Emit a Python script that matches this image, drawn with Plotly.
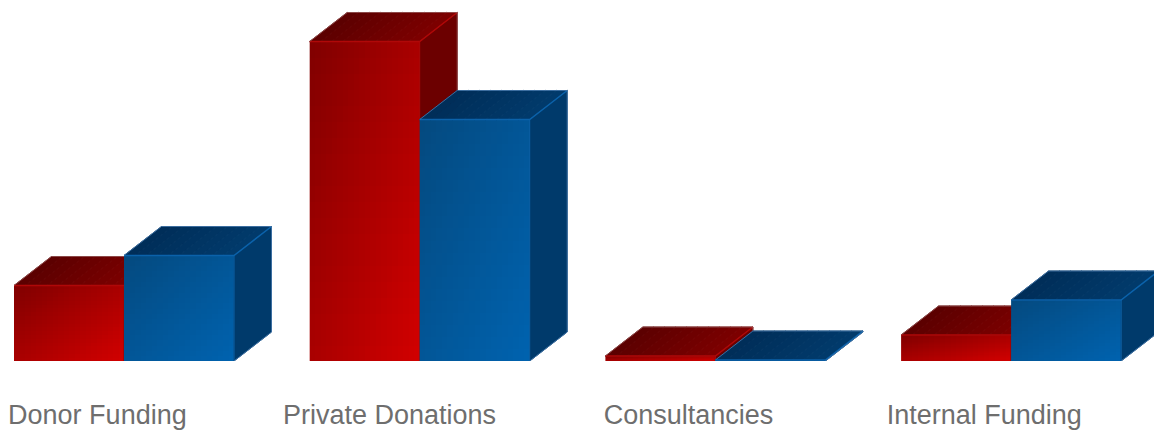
import plotly.graph_objects as go
import numpy as np

categories = ["Donor Funding", "Private Donations", "Consultancies", "Internal Funding"]
series_2_red = [75.5, 319.5, 5, 26]
series_1_blue = [105.5, 241.5, 1, 61]
label_positions = [0.282, 1.270, 2.281, 3.281]  # tick label centres, in group units

GROUP_PX = 295.7
BAR = 110.0 / GROUP_PX
DX = 37.5 / GROUP_PX
DY = 29
XR = [-14 / GROUP_PX, (1154 - 14) / GROUP_PX]
YR = [0, 361]

STYLE = {
    "red": dict(front=[[0, "#820000"], [1, "#d00000"]], top=("#5c0000", "#7c0000"),
                side="#6c0000", edge="#b00808", back="rgba(150,90,90,0.8)"),
    "blue": dict(front=[[0, "#044a80"], [1, "#0062ae"]], top=("#002e59", "#013a6b"),
                 side="#003a6b", edge="#0b62aa", back="rgba(70,120,170,0.85)"),
}


def mix(a, b, t):
    ca = [int(a[i:i + 2], 16) for i in (1, 3, 5)]
    cb = [int(b[i:i + 2], 16) for i in (1, 3, 5)]
    return "#" + "".join(f"{round(p + (q - p) * t):02x}" for p, q in zip(ca, cb))


def poly(xs, ys, color, xa, ya):
    return go.Scatter(x=xs, y=ys, mode="lines", fill="toself", fillcolor=color,
                      line=dict(width=1, color=color), hoverinfo="skip",
                      showlegend=False, xaxis=xa, yaxis=ya)


def outline(xs, ys, color, xa, ya, w=1.5):
    return go.Scatter(x=xs, y=ys, mode="lines", line=dict(width=w, color=color),
                      hoverinfo="skip", showlegend=False, xaxis=xa, yaxis=ya)


def bar3d(fig, left, value, style, xa, ya):
    s = STYLE[style]
    right = left + BAR
    fig.add_trace(poly([right, right + DX, right + DX, right, right],
                       [0, DY, value + DY, value, 0], s["side"], xa, ya))
    n = 10
    for i in range(n):
        a = left + BAR * i / n
        b = left + BAR * (i + 1) / n
        fig.add_trace(poly([a, b, b + DX, a + DX, a],
                           [value, value, value + DY, value + DY, value],
                           mix(s["top"][0], s["top"][1], i / (n - 1)), xa, ya))
    m = 20
    xe = np.linspace(left, right, m + 1)
    ye = np.linspace(0, value, m + 1)
    u = np.linspace(0, 1, m)
    z = [[(c + (1 - r)) / 2 for c in u] for r in u]
    fig.add_trace(go.Heatmap(x=xe, y=ye, z=z, zmin=0, zmax=1, colorscale=s["front"],
                             showscale=False, hoverinfo="skip", xaxis=xa, yaxis=ya))
    # edges
    fig.add_trace(outline([left, right, right + DX], [value, value, value + DY], s["edge"], xa, ya))
    fig.add_trace(outline([right, right], [0, value], s["edge"], xa, ya, 1))
    fig.add_trace(outline([left, left + DX, right + DX, right + DX, right],
                          [value, value + DY, value + DY, DY, 0], s["back"], xa, ya, 1))


fig = go.Figure()
for g in range(len(categories)):
    bar3d(fig, g, series_2_red[g], "red", "x", "y")
for g in range(len(categories)):
    bar3d(fig, g + BAR, series_1_blue[g], "blue", "x2", "y2")

fig.update_layout(
    width=1154, height=430, autosize=False,
    margin=dict(l=0, r=0, t=0, b=69, pad=0),
    paper_bgcolor="white", plot_bgcolor="white", showlegend=False,
    xaxis=dict(range=XR, tickmode="array", tickvals=label_positions, ticktext=categories,
               ticks="outside", ticklen=30, tickcolor="rgba(0,0,0,0)", showgrid=False,
               zeroline=False, showline=False, automargin=False,
               tickfont=dict(family="Liberation Sans", size=27, color="#6e6e6e")),
    yaxis=dict(range=YR, visible=False, showgrid=False, zeroline=False),
    xaxis2=dict(range=XR, overlaying="x", visible=False, showgrid=False, zeroline=False),
    yaxis2=dict(range=YR, overlaying="y", visible=False, showgrid=False, zeroline=False),
)

fig.write_html("out.html", config=dict(displayModeBar=False),
               post_script="document.body.style.margin='0';")
